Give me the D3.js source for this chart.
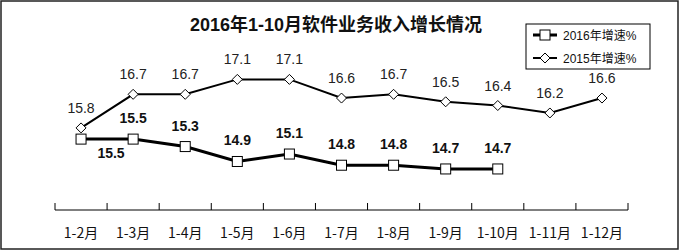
<!DOCTYPE html>
<html>
<head>
<meta charset="utf-8">
<script src="https://cdn.jsdelivr.net/npm/d3@7"></script>
<style>
body { margin: 0; background: #fff; }
svg { display: block; }
</style>
</head>
<body>
<div class="chart"></div>
<script>
var months = ["1-2月", "1-3月", "1-4月", "1-5月", "1-6月", "1-7月", "1-8月", "1-9月", "1-10月", "1-11月", "1-12月"];
var growth2016 = [15.5, 15.5, 15.3, 14.9, 15.1, 14.8, 14.8, 14.7, 14.7];
var growth2015 = [15.8, 16.7, 16.7, 17.1, 17.1, 16.6, 16.7, 16.5, 16.4, 16.2, 16.6];
var seriesNames = ["2016年增速%", "2015年增速%"];
var title = "2016年1-10月软件业务收入增长情况";

var W = 681, H = 251;
var svg = d3.select(".chart").append("svg")
    .attr("width", W).attr("height", H);

// outer frame
svg.append("rect")
    .attr("x", 1).attr("y", 1).attr("width", 677).attr("height", 248)
    .attr("fill", "#fff").attr("stroke", "#222").attr("stroke-width", 1.5);

svg.append("text")
    .attr("x", 336).attr("y", 31)
    .attr("text-anchor", "middle")
    .style("font", "bold 18px 'Liberation Sans', 'Noto Sans CJK SC', sans-serif")
    .attr("fill", "#111")
    .text(title);

var x = d3.scaleBand().domain(months).range([55, 628]);
var y = d3.scaleLinear().domain([13.6, 17.1]).range([210, 79.4]);
var cx = function(i) { return x(months[i]) + x.bandwidth() / 2; };

// x axis: baseline, ticks between categories, labels
var gx = svg.append("g").attr("transform", "translate(0,210)");
gx.append("line").attr("x1", 55).attr("x2", 628).attr("stroke", "#000").attr("stroke-width", 1);
gx.selectAll(".tk").data(d3.range(months.length + 1)).enter().append("line")
    .attr("x1", function(i) { return 55 + i * x.step(); })
    .attr("x2", function(i) { return 55 + i * x.step(); })
    .attr("y1", 0).attr("y2", -7)
    .attr("stroke", "#000");
gx.selectAll(".lb").data(months).enter().append("text")
    .attr("x", function(d) { return x(d) + x.bandwidth() / 2; })
    .attr("y", 28)
    .attr("text-anchor", "middle")
    .style("font", "14px 'Noto Sans CJK SC', sans-serif")
    .attr("fill", "#111")
    .text(function(d) { return d; });

var line = d3.line()
    .x(function(d, i) { return cx(i); })
    .y(function(d) { return y(d); });

// 2015 series
svg.append("path").attr("d", line(growth2015))
    .attr("fill", "none").attr("stroke", "#000").attr("stroke-width", 2);
svg.selectAll(".p15").data(growth2015).enter().append("path")
    .attr("transform", function(d, i) { return "translate(" + cx(i) + "," + y(d) + ")"; })
    .attr("d", "M0,-5L5,0L0,5L-5,0Z")
    .attr("fill", "#fff").attr("stroke", "#000").attr("stroke-width", 1);
svg.selectAll(".l15").data(growth2015).enter().append("text")
    .attr("x", function(d, i) { return cx(i); })
    .attr("y", function(d) { return y(d) - 15; })
    .attr("text-anchor", "middle")
    .style("font", "14px 'Liberation Sans', Arial, sans-serif")
    .attr("fill", "#222")
    .text(function(d) { return d.toFixed(1); });

// 2016 series
svg.append("path").attr("d", line(growth2016))
    .attr("fill", "none").attr("stroke", "#000").attr("stroke-width", 3);
svg.selectAll(".p16").data(growth2016).enter().append("rect")
    .attr("x", function(d, i) { return cx(i) - 5; })
    .attr("y", function(d) { return y(d) - 5; })
    .attr("width", 10).attr("height", 10)
    .attr("fill", "#fff").attr("stroke", "#000").attr("stroke-width", 1);
svg.selectAll(".l16").data(growth2016).enter().append("text")
    .attr("x", function(d, i) { return i === 0 ? cx(i) + 30 : cx(i); })
    .attr("y", function(d, i) { return i === 0 ? y(d) + 19 : y(d) - 16; })
    .attr("text-anchor", "middle")
    .style("font", "bold 14px 'Liberation Sans', Arial, sans-serif")
    .attr("fill", "#111")
    .text(function(d) { return d.toFixed(1); });

// legend
var lg = svg.append("g").attr("transform", "translate(526,24)");
lg.append("rect").attr("width", 124).attr("height", 45)
    .attr("fill", "#fff").attr("stroke", "#000").attr("stroke-width", 1);
seriesNames.forEach(function(name, k) {
    var yy = 11 + k * 23;
    lg.append("line").attr("x1", 7).attr("x2", 31).attr("y1", yy).attr("y2", yy)
        .attr("stroke", "#000").attr("stroke-width", k === 0 ? 3 : 2);
    if (k === 0) {
        lg.append("rect").attr("x", 14).attr("y", yy - 5).attr("width", 10).attr("height", 10)
            .attr("fill", "#fff").attr("stroke", "#000");
    } else {
        lg.append("path").attr("transform", "translate(19," + yy + ")")
            .attr("d", "M0,-5L5,0L0,5L-5,0Z")
            .attr("fill", "#fff").attr("stroke", "#000");
    }
    lg.append("text").attr("x", 37).attr("y", yy + 4.5)
        .style("font", "12px 'Liberation Sans', 'Noto Sans CJK SC', sans-serif")
        .attr("fill", "#111")
        .text(name);
});
</script>
</body>
</html>
